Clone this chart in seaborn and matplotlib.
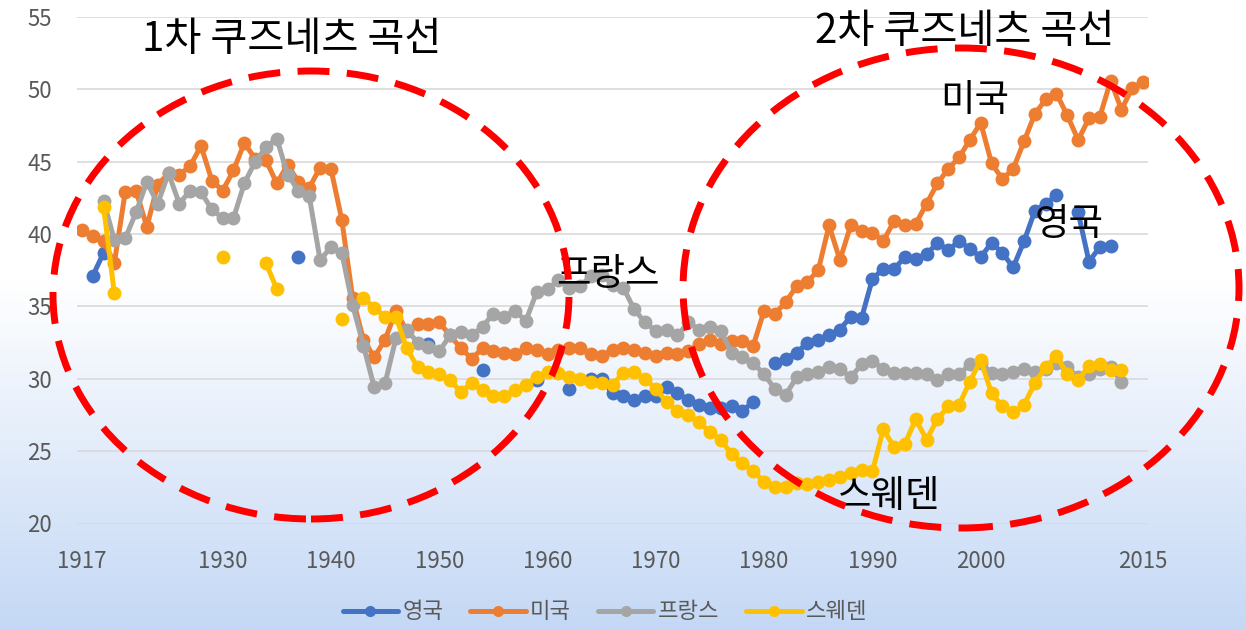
import numpy as np
import pandas as pd
import matplotlib
matplotlib.use("Agg")
import matplotlib.pyplot as plt
from matplotlib.patches import Ellipse
from matplotlib.lines import Line2D
import seaborn as sns

nan = np.nan
years = list(range(1917, 2016))

uk = [nan, 37.1, 38.7] + [nan]*17 + [38.4] + [nan]*11 + [32.4] + [nan]*4 + [30.6] + [nan]*4 + [29.9, nan, nan, 29.3, nan,
      30.0, 30.0, 29.0, 28.8, 28.5, 28.8, 28.8, 29.4, 29.0, 28.5, 28.2, 28.0, 28.0, 28.1, 27.8, 28.4,
      nan, 31.1, 31.4, 31.8, 32.5, 32.7, 33.0, 33.4, 34.3, 34.2,
      36.9, 37.6, 37.6, 38.4, 38.3, 38.6, 39.4, 38.9, 39.5, 39.0,
      38.4, 39.4, 38.7, 37.7, 39.5, 41.6, 42.1, 42.7, nan, 41.5,
      38.1, 39.1, 39.2, nan, nan, nan]

us = [40.3, 39.9, 39.5, 38.0, 42.9, 43.0, 40.5, 43.4, 44.2, 44.1,
      44.7, 46.1, 43.7, 43.0, 44.4, 46.3, 45.2, 45.1, 43.5, 44.8,
      43.6, 43.2, 44.6, 44.5, 41.0, 35.6, 32.7, 31.5, 32.7, 34.7,
      33.3, 33.8, 33.8, 33.9, 33.0, 32.1, 31.4, 32.1, 31.9, 31.8,
      31.7, 32.1, 32.0, 31.7, 32.0, 32.1, 32.1, 31.7, 31.6, 32.0,
      32.1, 32.0, 31.8, 31.6, 31.8, 31.7, 31.9, 32.4, 32.7, 32.4,
      32.6, 32.6, 32.3, 34.7, 34.5, 35.3, 36.4, 36.7, 37.5, 40.6,
      38.2, 40.6, 40.2, 40.1, 39.5, 40.9, 40.6, 40.7, 42.1, 43.5,
      44.5, 45.3, 46.5, 47.7, 44.9, 43.8, 44.5, 46.4, 48.3, 49.3,
      49.7, 48.2, 46.5, 48.0, 48.1, 50.6, 48.6, 50.1, 50.5]

fr = [nan, nan, 42.3, 39.6, 39.7, 41.5, 43.6, 42.1, 44.2, 42.1,
      43.0, 42.9, 41.7, 41.1, 41.1, 43.5, 45.0, 46.0, 46.6, 44.1,
      43.0, 42.6, 38.2, 39.1, 38.7, 35.1, 32.3, 29.4, 29.7, 32.8,
      33.4, 32.5, 32.2, 31.9, 33.0, 33.2, 33.0, 33.6, 34.5, 34.3,
      34.7, 34.0, 36.0, 36.2, 36.8, 36.3, 36.4, 37.1, 37.2, 36.5,
      36.3, 34.8, 33.9, 33.3, 33.4, 33.0, 33.9, 33.4, 33.6, 33.3,
      31.8, 31.5, 31.1, 30.3, 29.3, 28.9, 30.1, 30.3, 30.5, 30.8,
      30.7, 30.1, 31.0, 31.2, 30.7, 30.4, 30.4, 30.4, 30.3, 29.9,
      30.3, 30.3, 31.0, 31.1, 30.4, 30.3, 30.5, 30.7, 30.5, 30.7,
      31.1, 30.8, 30.1, 30.3, 30.7, 30.8, 29.8, nan, nan]

se = [nan, nan, 41.9, 35.9] + [nan]*9 + [38.4, nan, nan, nan, 38.0, 36.2] + [nan]*5 + [34.1, nan,
      35.6, 34.9, 34.3, 34.3, 32.1, 30.8, 30.5, 30.3, 29.9, 29.1,
      29.7, 29.2, 28.8, 28.8, 29.2, 29.6, 30.1, 30.5, 30.4, 30.1,
      30.0, 29.8, 29.7, 29.6, 30.4, 30.5, 30.0, 29.3, 28.4, 27.8,
      27.5, 27.0, 26.3, 25.8, 24.8, 24.2, 23.6, 22.9, 22.5, 22.5,
      22.8, 22.7, 22.9, 23.0, 23.2, 23.5, 23.7, 23.6, 26.5, 25.3,
      25.5, 27.2, 25.8, 27.2, 28.1, 28.2, 29.8, 31.3, 29.0, 28.1,
      27.7, 28.2, 29.7, 30.8, 31.6, 30.3, 29.9, 30.9, 31.0, 30.6,
      30.6, nan, nan]

countries = ["영국", "미국", "프랑스", "스웨덴"]
colors = ["#4472C4", "#ED7D31", "#A5A5A5", "#FFC000"]
series = [uk, us, fr, se]

tick_years = [1917, 1930, 1940, 1950, 1960, 1970, 1980, 1990, 2000, 2015]
tick_labels = ["1917", "1930", "1940", "1950", "1960", "1970", "1980", "1990", "2000", "2015"]
y_ticks = [20, 25, 30, 35, 40, 45, 50, 55]

# long-form table with a segment id that breaks lines at gaps
rows = []
for name, vals in zip(countries, series):
    assert len(vals) == len(years), (name, len(vals))
    seg = 0
    prev_nan = True
    for yr, v in zip(years, vals):
        if np.isnan(v):
            prev_nan = True
            continue
        if prev_nan:
            seg += 1
        prev_nan = False
        rows.append({"year": yr, "value": v, "country": name, "seg": seg})
df = pd.DataFrame(rows)

sns.set_style("white")
plt.rcParams["font.family"] = ["Noto Sans CJK KR", "DejaVu Sans"]

W, H = 1246, 629
fig = plt.figure(figsize=(W / 100, H / 100), dpi=100)

# gradient background
bg = fig.add_axes([0, 0, 1, 1], zorder=-10)
t = np.linspace(0, 1, 400)[:, None]
frac = np.clip((t - 0.45) / 0.55, 0, 1)
top = np.array([1.0, 1.0, 1.0])
bot = np.array([196, 216, 245]) / 255.0
grad = (1 - frac)[..., None] * top + frac[..., None] * bot
grad = np.repeat(grad, 2, axis=1)
bg.imshow(grad, aspect="auto", extent=[0, 1, 0, 1], origin="upper")
bg.axis("off")

left, right, topy, boty = 77, 1148, 17, 523.5
ax = fig.add_axes([left / W, 1 - boty / H, (right - left) / W, (boty - topy) / H])
ax.set_facecolor("none")

sns.lineplot(data=df, x="year", y="value", hue="country", units="seg",
             estimator=None, hue_order=countries, palette=colors,
             marker="o", markersize=10, markeredgewidth=0, linewidth=3.6,
             sort=False, legend=False, ax=ax, solid_joinstyle="round",
             solid_capstyle="round")

ax.set_xlim(1916.55, 2015.45)
ax.set_ylim(20, 55)
ax.set_xticks(tick_years)
ax.set_xticklabels(tick_labels)
ax.set_yticks(y_ticks)
ax.set_yticklabels([str(v) for v in y_ticks])
ax.tick_params(axis="both", length=0, labelsize=16, labelcolor="#595959")
ax.tick_params(axis="x", pad=19)
ax.tick_params(axis="y", pad=18)
ax.grid(axis="y", color="#D9D9D9", linewidth=1.2)
ax.grid(axis="x", visible=False)
ax.set_axisbelow(True)
ax.set_xlabel("")
ax.set_ylabel("")
for s in ax.spines.values():
    s.set_visible(False)

# annotations
def ftext(x, y, s, size):
    fig.text(x / W, 1 - y / H, s, fontsize=size, ha="center", va="center",
             color="black", zorder=15)

ftext(292, 39, "1차 쿠즈네츠 곡선", 29)
ftext(965, 31, "2차 쿠즈네츠 곡선", 29)
ftext(975, 101, "미국", 27)
ftext(1069, 224, "영국", 27)
ftext(608, 274, "프랑스", 27)
ftext(888, 497, "스웨덴", 27)

# dashed ellipses
for cx, cy, a, b in [(311, 295, 258, 224), (961, 288, 278, 240)]:
    e = Ellipse((cx / W, 1 - cy / H), 2 * a / W, 2 * b / H, transform=fig.transFigure,
                fill=False, edgecolor="#FF0000", linewidth=5,
                linestyle=(0, (4.6, 2.5)), zorder=20)
    e.set_capstyle("butt")
    fig.add_artist(e)

handles = [Line2D([0], [0], color=c, lw=3.6, marker="o", markersize=8, markeredgewidth=0)
           for c in colors]
fig.legend(handles, countries, loc="center", bbox_to_anchor=(605 / W, 1 - 612 / H),
           ncol=4, frameon=False, fontsize=16, handlelength=2.5, handletextpad=0.2,
           columnspacing=1.2, labelcolor="#595959")

fig.savefig("out.png", dpi=100)
